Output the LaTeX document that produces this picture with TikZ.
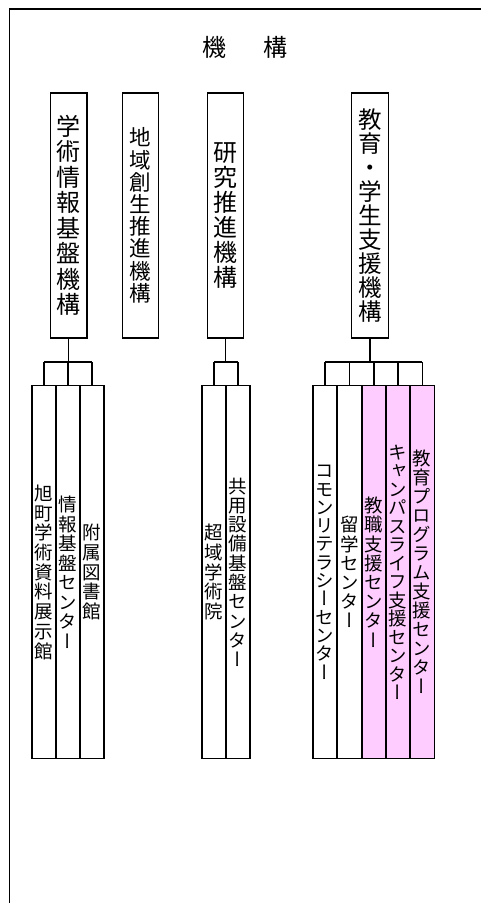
\documentclass[tikz,border=0pt]{standalone}
\usepackage{fontspec}
\newfontfamily\jp{Noto Sans CJK JP}[RawFeature=+vert]
\newfontfamily\jph{Noto Sans CJK JP}
\definecolor{pinkfill}{RGB}{255,204,255}
\makeatletter
\def\vt@end{\vt@end}
\newcommand\vtext[2]{\vbox{\baselineskip=#1\lineskiplimit=-100pt\lineskip=0pt\vt@loop#2\vt@end}}
\def\vt@loop#1{\ifx#1\vt@end\else\hbox to 1em{\hss#1\hss}\expandafter\vt@loop\fi}
\makeatother
\tikzset{
  hdr/.style={draw, line width=1.4pt, inner sep=0pt, minimum width=36.5pt, minimum height=245pt},
  hfont/.style={font=\jp\fontsize{24}{24}\selectfont},
  subbox/.style={draw, line width=1.4pt, inner sep=0pt, minimum width=24pt, minimum height=373pt, anchor=north, font=\jp\fontsize{18.5}{18.5}\selectfont},
  pinkbox/.style={subbox, fill=pinkfill},
  wire/.style={line width=1.4pt},
  frameline/.style={line width=1.5pt}
}
\begin{document}
\begin{tikzpicture}[x=1pt,y=-1pt]
\useasboundingbox (0,0) rectangle (481,903);
% frame
\coordinate (fbl) at (9.3,903);
\coordinate (ftl) at (9.3,8.8);
\coordinate (ftr) at (481,8.8);
\draw[frameline] (fbl) -- (ftl) -- (ftr);
% title
\node[font=\jph\fontsize{24}{24}\selectfont] (title) at (245,47) {機\hspace{37pt}構};
% header boxes
\node[hdr, hfont] (h1) at (68.6,215.5) {\vtext{25.5pt}{学術情報基盤機構}};
\node[hdr, font=\jp\fontsize{21.5}{21.5}\selectfont] (h2) at (140.5,215.5) {\vtext{22.2pt}{地域創生推進機構}};
\node[hdr, hfont] (h3) at (225.5,215.5) {\vtext{25pt}{研究推進機構}};
\node[hdr, font=\jp\fontsize{23.5}{23.5}\selectfont] (h4) at (370,215.5) {\vtext{24pt}{教育・学生支援機構}};
% group 1
\node[subbox] (s11) at (44,385) {\vtext{19.7pt}{旭町学術資料展示館}};
\node[subbox] (s12) at (68,385) {\vtext{19.5pt}{情報基盤センター}};
\node[subbox] (s13) at (92,385) {\vtext{19.7pt}{附属図書館}};
% group 3
\node[subbox] (s31) at (214,385) {\vtext{19.7pt}{超域学術院}};
\node[subbox] (s32) at (238,385) {\vtext{19.3pt}{共用設備基盤センター}};
% group 4
\node[subbox] (s41) at (325,385) {\vtext{18.3pt}{コモンリテラシーセンター}};
\node[subbox] (s42) at (349.5,385) {\vtext{19.2pt}{留学センター}};
\node[pinkbox] (s43) at (373.8,385) {\vtext{19.2pt}{教職支援センター}};
\node[pinkbox] (s44) at (398,385) {\vtext{18.5pt}{キャンパスライフ支援センター}};
\node[pinkbox] (s45) at (422.2,385) {\vtext{19pt}{教育プログラム支援センター}};
% buses
\coordinate (bus1) at (0,362);
\coordinate (bus3) at (0,362);
\coordinate (bus4) at (0,362);
\draw[wire] (h1.south) -- (h1.south|-bus1);
\draw[wire] (s11.north|-bus1) -- (s13.north|-bus1);
\foreach \n in {s11,s12,s13} \draw[wire] (\n.north) -- (\n.north|-bus1);
\draw[wire] (h3.south) -- (h3.south|-bus3);
\draw[wire] (s31.north|-bus3) -- (s32.north|-bus3);
\foreach \n in {s31,s32} \draw[wire] (\n.north) -- (\n.north|-bus3);
\draw[wire] (h4.south) -- (h4.south|-bus4);
\draw[wire] (s41.north|-bus4) -- (s45.north|-bus4);
\foreach \n in {s41,s42,s43,s44,s45} \draw[wire] (\n.north) -- (\n.north|-bus4);
\end{tikzpicture}
\end{document}
